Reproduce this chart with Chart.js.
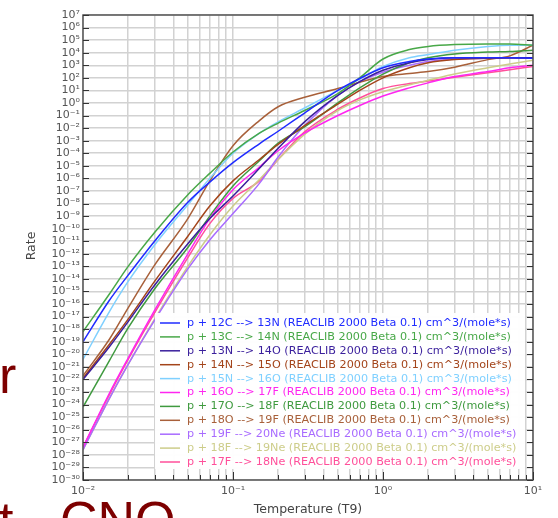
<!DOCTYPE html>
<html>
<head>
<meta charset="utf-8">
<script src="https://cdn.jsdelivr.net/npm/chart.js@4.4.1/dist/chart.umd.min.js"></script>
<style>
  html, body { margin: 0; padding: 0; background: #fff; overflow: hidden; }
  #wrap { position: relative; width: 558px; height: 518px; overflow: hidden; }
  #rates { position: absolute; left: 0; top: 0; }
  .slide { position: absolute; color: #7d0000; font-family: "Liberation Sans", Arial, sans-serif;
           font-size: 52px; line-height: 1; white-space: nowrap; }
</style>
</head>
<body>
<div id="wrap">
  <canvas id="rates" width="558" height="518"></canvas>
  <div class="slide" style="left:-1px; top:349px;">r</div>
  <div class="slide" style="left:-30px; top:494px;">at</div>
  <div class="slide" style="left:60px; top:494px;">CNO</div>
</div>
<script>
// Temperature grid (T9) the curves are read at
const temps = [0.01, 0.015, 0.02, 0.03, 0.05, 0.07, 0.1, 0.15, 0.2, 0.3, 0.5, 0.7, 1, 1.5, 2, 3, 5, 7, 10];

// log10 of rate
const p12C = [-19.0, -15.7, -13.7, -11.0, -7.9, -6.3, -4.75, -3.25, -2.25, -0.8, 1.0, 1.95, 2.8, 3.3, 3.5, 3.6, 3.6, 3.6, 3.55];
const p13C = [-18.2, -15.2, -13.0, -10.3, -7.3, -5.6, -3.9, -2.4, -1.6, -0.6, 0.75, 2.0, 3.5, 4.25, 4.5, 4.65, 4.7, 4.7, 4.6];
const p13N = [-22.0, -19.4, -17.4, -14.5, -11.2, -9.2, -7.4, -5.2, -3.6, -1.5, 0.6, 1.7, 2.6, 3.2, 3.45, 3.6, 3.6, 3.6, 3.6];
const p14N = [-21.9, -19.2, -17.2, -14.2, -10.6, -8.2, -6.2, -4.5, -3.3, -1.8, -0.1, 1.0, 2.0, 2.8, 3.2, 3.45, 3.55, 3.6, 3.55];
const p15N = [-20.4, -16.6, -14.2, -11.3, -8.1, -6.0, -4.0, -2.4, -1.5, -0.4, 1.0, 1.9, 2.9, 3.6, 3.85, 4.2, 4.5, 4.6, 4.6];
const p16O = [-27.4, -23.1, -20.3, -16.5, -12.0, -9.2, -6.9, -5.1, -3.8, -2.4, -1.0, -0.2, 0.55, 1.2, 1.6, 2.1, 2.5, 2.8, 3.0];
const p17O = [-24.2, -20.5, -17.9, -14.8, -11.5, -9.0, -6.6, -4.6, -3.2, -1.9, 0.0, 1.2, 2.3, 3.2, 3.6, 3.9, 4.05, 4.1, 4.2];
const p18O = [-21.7, -18.8, -16.3, -12.9, -9.2, -6.2, -3.4, -1.4, -0.3, 0.45, 1.15, 1.65, 2.1, 2.35, 2.5, 2.85, 3.45, 3.75, 4.6];
const p19F = [-27.6, -23.5, -20.8, -17.3, -13.2, -10.9, -8.8, -6.4, -4.3, -1.8, 0.6, 1.7, 2.45, 3.0, 3.3, 3.5, 3.55, 3.6, 3.6];
const p18F = [-27.6, -23.5, -20.8, -17.2, -13.0, -10.5, -8.2, -6.1, -4.5, -2.5, -0.6, 0.25, 0.9, 1.45, 1.8, 2.3, 2.8, 3.1, 3.4];
const p17F = [-27.4, -23.2, -20.4, -16.7, -12.3, -9.6, -7.6, -6.2, -4.5, -2.3, -0.5, 0.4, 1.15, 1.55, 1.75, 2.05, 2.4, 2.65, 2.9];

const labels = [
  'p + 12C --> 13N (REACLIB 2000 Beta 0.1) cm^3/(mole*s)',
  'p + 13C --> 14N (REACLIB 2000 Beta 0.1) cm^3/(mole*s)',
  'p + 13N --> 14O (REACLIB 2000 Beta 0.1) cm^3/(mole*s)',
  'p + 14N --> 15O (REACLIB 2000 Beta 0.1) cm^3/(mole*s)',
  'p + 15N --> 16O (REACLIB 2000 Beta 0.1) cm^3/(mole*s)',
  'p + 16O --> 17F (REACLIB 2000 Beta 0.1) cm^3/(mole*s)',
  'p + 17O --> 18F (REACLIB 2000 Beta 0.1) cm^3/(mole*s)',
  'p + 18O --> 19F (REACLIB 2000 Beta 0.1) cm^3/(mole*s)',
  'p + 19F --> 20Ne (REACLIB 2000 Beta 0.1) cm^3/(mole*s)',
  'p + 18F --> 19Ne (REACLIB 2000 Beta 0.1) cm^3/(mole*s)',
  'p + 17F --> 18Ne (REACLIB 2000 Beta 0.1) cm^3/(mole*s)'
];
const series = [p12C, p13C, p13N, p14N, p15N, p16O, p17O, p18O, p19F, p18F, p17F];
const colors = ['#1f2bff', '#48a848', '#3a1f9c', '#a3441a', '#7fd0ff', '#ff26f0',
                '#3f9a3f', '#a8603a', '#a86bff', '#cdcd8a', '#ff4f9a'];

const xTicks = [];
for (let d = -2; d < 1; d++) for (let m = 1; m < 10; m++) xTicks.push(m * Math.pow(10, d));
xTicks.push(10);
const yTicks = [];
for (let e = -30; e <= 7; e++) yTicks.push(Math.pow(10, e));

const sup = { '-': '\u207b', '0': '\u2070', '1': '\u00b9', '2': '\u00b2', '3': '\u00b3', '4': '\u2074',
              '5': '\u2075', '6': '\u2076', '7': '\u2077', '8': '\u2078', '9': '\u2079' };
function pow10Label(v) {
  const e = Math.round(Math.log10(v));
  if (Math.abs(v - Math.pow(10, e)) > 1e-9 * v) return '';
  return '10' + String(e).split('').map(c => sup[c]).join('');
}

const datasets = series.map((s, i) => ({
  label: labels[i],
  data: temps.map((t, j) => ({ x: t, y: Math.pow(10, s[j]) })),
  borderColor: colors[i],
  backgroundColor: colors[i],
  borderWidth: 1.5,
  pointRadius: 0,
  fill: false,
  cubicInterpolationMode: 'monotone'
}));

// frame, inner tick marks, axis titles and the in-plot legend
const decor = {
  id: 'decor',
  afterDatasetsDraw(chart) {
    const { ctx, chartArea: a, scales } = chart;
    ctx.save();
    ctx.strokeStyle = '#555';
    ctx.lineWidth = 1.5;
    ctx.strokeRect(a.left, a.top, a.right - a.left, a.bottom - a.top);
    ctx.strokeStyle = '#333';
    ctx.lineWidth = 1;
    ctx.beginPath();
    yTicks.forEach(v => {
      const y = Math.round(scales.y.getPixelForValue(v)) + 0.5;
      ctx.moveTo(a.left, y); ctx.lineTo(a.left + 6, y);
      ctx.moveTo(a.right, y); ctx.lineTo(a.right - 6, y);
    });
    xTicks.forEach(v => {
      const x = Math.round(scales.x.getPixelForValue(v)) + 0.5;
      const len = pow10Label(v) ? 8 : 5;
      ctx.moveTo(x, a.bottom); ctx.lineTo(x, a.bottom - len);
    });
    ctx.stroke();

    // legend box
    const lx = 155, ly = 313, lw = 370, lh = 156, row = 13.9;
    ctx.fillStyle = 'rgba(255,255,255,0.96)';
    ctx.fillRect(lx, ly, lw, lh);
    ctx.font = '11.2px "DejaVu Sans", sans-serif';
    ctx.textBaseline = 'middle';
    chart.data.datasets.forEach((ds, i) => {
      const y = ly + 10 + i * row;
      ctx.strokeStyle = ds.borderColor;
      ctx.lineWidth = 1.5;
      ctx.beginPath(); ctx.moveTo(lx + 5, y); ctx.lineTo(lx + 25, y); ctx.stroke();
      ctx.fillStyle = ds.borderColor;
      ctx.fillText(ds.label, lx + 32, y);
    });

    // axis titles
    ctx.fillStyle = '#444';
    ctx.font = '12.5px "DejaVu Sans", sans-serif';
    ctx.textAlign = 'center';
    ctx.fillText('Temperature (T9)', 308, 510);
    ctx.translate(32, 246);
    ctx.rotate(-Math.PI / 2);
    ctx.fillText('Rate', 0, 0);
    ctx.restore();
  }
};

new Chart(document.getElementById('rates'), {
  type: 'line',
  data: { datasets },
  plugins: [decor],
  options: {
    responsive: false,
    animation: false,
    devicePixelRatio: 1,
    layout: { padding: { top: 15, right: 25, left: 0, bottom: 0 } },
    plugins: { legend: { display: false }, tooltip: { enabled: false } },
    scales: {
      x: {
        type: 'logarithmic',
        min: 0.01, max: 10,
        afterBuildTicks: axis => { axis.ticks = xTicks.map(v => ({ value: v })); },
        afterFit: axis => { axis.height = 38; },
        border: { display: false },
        grid: { color: '#d2d2d2', lineWidth: 1.5, drawTicks: false },
        ticks: {
          autoSkip: false, maxRotation: 0, padding: 5,
          color: '#555', font: { family: 'DejaVu Sans', size: 11 },
          callback: v => pow10Label(v)
        }
      },
      y: {
        type: 'logarithmic',
        min: 1e-30, max: 1e7,
        afterBuildTicks: axis => { axis.ticks = yTicks.map(v => ({ value: v })); },
        afterFit: axis => { axis.width = 83; },
        border: { display: false },
        grid: { color: '#d2d2d2', lineWidth: 1.5, drawTicks: false },
        ticks: {
          autoSkip: false, padding: 3,
          color: '#555', font: { family: 'DejaVu Sans', size: 11 },
          callback: v => pow10Label(v)
        }
      }
    }
  }
});
</script>
</body>
</html>
